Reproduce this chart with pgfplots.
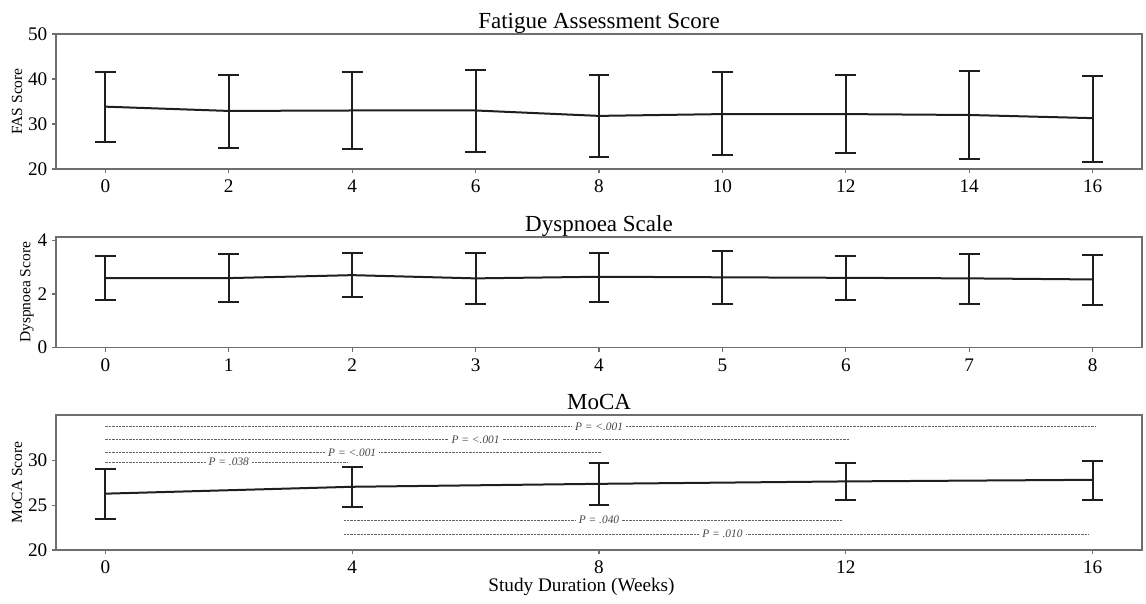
\documentclass[border=0pt]{standalone}
\usepackage{pgfplots}
\usepackage{pgfplotstable}
\pgfplotsset{compat=1.18}
\usepackage{fontspec}
\setmainfont{Liberation Serif}
\definecolor{frame}{RGB}{110,110,110}
\definecolor{ink}{RGB}{30,30,30}
\definecolor{dashc}{RGB}{100,100,100}
\definecolor{ptext}{RGB}{70,70,70}
\pgfplotsset{
  every axis title shift=0pt,
  panel/.style={
    scale only axis, width=543pt,
    axis line style={frame, line width=0.6pt},
    tick pos=left, tick align=outside, major tick length=2pt,
    tick style={frame, line width=0.6pt},
    tick label style={font=\fontsize{9.6}{11}\selectfont, text=black},
    yticklabel style={xshift=1.2pt},
    /pgf/number format/assume math mode=true,
    title style={font=\fontsize{11.5}{13}\selectfont, at={(axis description cs:0.5,1)}, anchor=base, yshift=2.6pt},
    ylabel style={font=\fontsize{7.75}{9}\selectfont, at={(axis description cs:-0.0359,0.5)}, anchor=center},
    clip=false,
  },
  mean/.style={ink, line width=1pt, mark=none, error bars/.cd, y dir=both, y explicit, error bar style={ink, line width=1pt}, error mark options={ink, line width=1pt, mark size=5.2pt, rotate=90}},
  pline/.style={dashc, line width=0.55pt, dash pattern=on 1.2pt off 0.5pt, forget plot},
}
\tikzset{plab/.style={fill=white, inner xsep=1.5pt, inner ysep=0.3pt, text=ptext, font=\fontsize{5.7}{6.5}\selectfont\itshape}}
\pgfplotstableread{
x y ep em
0 33.85 7.75 7.85
2 32.9 8.0 8.3
4 33.0 8.6 8.6
6 33.0 9.1 9.3
8 31.8 9.0 9.1
10 32.2 9.4 9.2
12 32.2 8.7 8.7
14 32.0 9.8 9.8
16 31.3 9.4 9.7
}\fas
\pgfplotstableread{
x y ep em
0 2.59 0.82 0.82
1 2.59 0.90 0.90
2 2.70 0.82 0.82
3 2.58 0.93 0.97
4 2.64 0.89 0.93
5 2.62 0.99 0.98
6 2.60 0.81 0.83
7 2.58 0.91 0.94
8 2.54 0.92 0.95
}\dys
\pgfplotstableread{
x y ep em
0 26.3 2.73 2.86
4 27.07 2.23 2.29
8 27.4 2.3 2.33
12 27.67 2.03 2.07
16 27.85 2.11 2.22
}\moca
\begin{document}
\begin{tikzpicture}
\useasboundingbox (0,0) rectangle (573pt,302pt);
\begin{axis}[panel, at={(28pt,217.5pt)}, height=67.5pt,
  xmin=-0.8, xmax=16.8, ymin=20, ymax=50,
  xtick={0,2,...,16}, ytick={20,30,40,50},
  title={Fatigue Assessment Score}, ylabel={FAS Score}]
\addplot[mean] table[x=x, y=y, y error plus=ep, y error minus=em] {\fas};
\end{axis}
\begin{axis}[panel, at={(28pt,128.15pt)}, height=55.35pt,
  xmin=-0.4, xmax=8.4, ymin=0, ymax=4.12,
  xtick={0,1,...,8}, ytick={0,2,4},
  title={Dyspnoea Scale}, ylabel={Dyspnoea Score},
  ylabel style={at={(axis description cs:-0.0267,0.5)}}]
\addplot[mean] table[x=x, y=y, y error plus=ep, y error minus=em] {\dys};
\end{axis}
\begin{axis}[panel, at={(28pt,27pt)}, height=67.5pt,
  xmin=-0.8, xmax=16.8, ymin=20, ymax=35.1,
  xtick={0,4,...,16}, ytick={20,25,30},
  title={MoCA}, ylabel={MoCA Score},
  xlabel={Study Duration (Weeks)},
  xlabel style={font=\fontsize{9.6}{11}\selectfont, at={(axis description cs:0.4839,-0.307)}, anchor=base}]
\addplot[pline] coordinates {(0,33.8) (16.05,33.8)};
\addplot[pline] coordinates {(0,32.33) (12.06,32.33)};
\addplot[pline] coordinates {(0,30.92) (8.04,30.92)};
\addplot[pline] coordinates {(0,29.81) (3.92,29.81)};
\addplot[pline] coordinates {(3.86,23.33) (11.94,23.33)};
\addplot[pline] coordinates {(3.86,21.78) (15.93,21.78)};
\node[plab] at (axis cs:8,33.8) {P = <.001};
\node[plab] at (axis cs:6,32.33) {P = <.001};
\node[plab] at (axis cs:4,30.92) {P = <.001};
\node[plab] at (axis cs:2,29.81) {P = .038};
\node[plab] at (axis cs:8,23.33) {P = .040};
\node[plab] at (axis cs:10,21.78) {P = .010};
\addplot[mean] table[x=x, y=y, y error plus=ep, y error minus=em] {\moca};
\end{axis}
\end{tikzpicture}
\end{document}
